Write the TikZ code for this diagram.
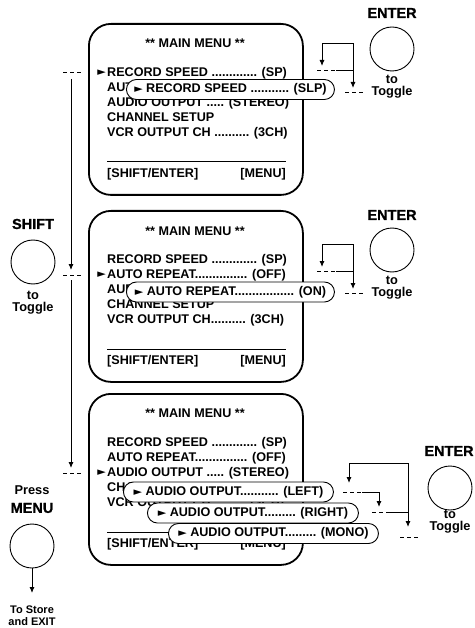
\documentclass[tikz,border=0pt]{standalone}
\usepackage{fontspec}
\setmainfont{Liberation Sans}
\newfontfamily\dvsans{DejaVu Sans}
\newfontfamily\heavyfont{Liberation Sans}[BoldFeatures={FakeBold=0.8}]
\usetikzlibrary{arrows.meta}
\newcommand{\tri}{{\dvsans\fontsize{11}{11}\selectfont ►}}
\newcommand{\menufont}{\bfseries\fontsize{12.6}{15}\selectfont}
\tikzset{
  menubox/.style={draw, line width=1.8pt, rounded corners=22pt, minimum width=214pt, minimum height=171pt, anchor=north west, fill=white, inner sep=0pt},
  row/.style={anchor=west, inner sep=0pt, text height=9pt, text depth=2.5pt, font=\menufont},
  rowr/.style={row, anchor=east},
  menutitle/.style={inner sep=0pt, text height=9pt, text depth=2.5pt, font=\menufont},
  pointer/.style={anchor=east, inner sep=0pt},
  pill/.style={draw, line width=0.9pt, fill=white, rounded corners=10pt, minimum height=20pt, inner xsep=4pt, inner ysep=0pt, anchor=west, text height=9pt, text depth=2.5pt, font=\menufont},
  btn/.style={draw, circle, line width=0.9pt, minimum size=44pt, inner sep=0pt},
  keylabel/.style={inner sep=0pt, font=\heavyfont\bfseries\fontsize{14.5}{16}\selectfont},
  smalllabel/.style={inner sep=0pt, align=center, font=\bfseries\fontsize{12.8}{12}\selectfont},
  tinylabel/.style={inner sep=0pt, align=center, font=\bfseries\fontsize{11}{12}\selectfont},
  conn/.style={line width=0.9pt},
  arr/.style={conn, -{Latex[length=6pt,width=5pt]}},
  dsh/.style={conn, dash pattern=on 4pt off 3pt},
  rulel/.style={line width=1pt}
}
\begin{document}
\begin{tikzpicture}[x=1pt,y=-1pt]
\useasboundingbox (0,0) rectangle (474,628);

% ---------------- Box 1 ----------------
\node[menubox] (b1) at (88,23) {};
\node[menutitle] (b1t) at (195,44) {** MAIN MENU **};
\node[row] (b1r1) at (107,73) {RECORD SPEED ............. (SP)};
\node[row] (b1r2) at (107,88) {AUTO REPEAT............... (OFF)};
\node[row] (b1r3) at (107,103) {AUDIO OUTPUT ..... (STEREO)};
\node[row] (b1r4) at (107,118) {CHANNEL SETUP};
\node[row] (b1r5) at (107,133) {VCR OUTPUT CH .......... (3CH)};
\coordinate (b1la) at (107,162); \coordinate (b1lb) at (286,162);
\draw[rulel] (b1la) -- (b1lb);
\node[row] (b1f1) at (107,174) {[SHIFT/ENTER]};
\node[rowr] (b1f2) at (286,174) {[MENU]};
\node[pointer] (b1m) at (106,72.5) {\tri};
\node[pill, minimum width=208pt] (b1p) at (126,89.5) {\tri\ RECORD SPEED ........... (SLP)};

% ---------------- Box 2 ----------------
\node[menubox] (b2) at (88,210) {};
\node[menutitle] (b2t) at (195,232) {** MAIN MENU **};
\node[row] (b2r1) at (107,260) {RECORD SPEED ............. (SP)};
\node[row] (b2r2) at (107,275) {AUTO REPEAT............... (OFF)};
\node[row] (b2r3) at (107,290) {AUDIO OUTPUT ..... (STEREO)};
\node[row] (b2r4) at (107,305) {CHANNEL SETUP};
\node[row] (b2r5) at (107,320) {VCR OUTPUT CH.......... (3CH)};
\coordinate (b2la) at (107,349); \coordinate (b2lb) at (286,349);
\draw[rulel] (b2la) -- (b2lb);
\node[row] (b2f1) at (107,361) {[SHIFT/ENTER]};
\node[rowr] (b2f2) at (286,361) {[MENU]};
\node[pointer] (b2m) at (106,274.5) {\tri};
\node[pill, minimum width=208pt] (b2p) at (126,292) {\tri\ AUTO REPEAT................. (ON)};

% ---------------- Box 3 ----------------
\node[menubox] (b3) at (88,393) {};
\node[menutitle] (b3t) at (195,414) {** MAIN MENU **};
\node[row] (b3r1) at (107,443) {RECORD SPEED ............. (SP)};
\node[row] (b3r2) at (107,458) {AUTO REPEAT............... (OFF)};
\node[row] (b3r3) at (107,473) {AUDIO OUTPUT ..... (STEREO)};
\node[row] (b3r4) at (107,488) {CHANNEL SETUP};
\node[row] (b3r5) at (107,503) {VCR OUTPUT CH.......... (3CH)};
\coordinate (b3la) at (107,532); \coordinate (b3lb) at (286,532);
\draw[rulel] (b3la) -- (b3lb);
\node[row] (b3f1) at (107,544) {[SHIFT/ENTER]};
\node[rowr] (b3f2) at (286,544) {[MENU]};
\node[pointer] (b3m) at (106,472.5) {\tri};
\node[pill, minimum width=210pt] (b3p1) at (123,492) {\tri\ AUDIO OUTPUT........... (LEFT)};
\node[pill, minimum width=211pt] (b3p2) at (147,513) {\tri\ AUDIO OUTPUT......... (RIGHT)};
\node[pill, minimum width=210pt] (b3p3) at (168,533.5) {\tri\ AUDIO OUTPUT......... (MONO)};

% ---------------- Left: SHIFT path ----------------
\coordinate (l1a) at (63,72); \coordinate (l1b) at (82,72);
\coordinate (l2a) at (63,275); \coordinate (l2b) at (82,275);
\coordinate (l3a) at (63,473); \coordinate (l3b) at (82,473);
\coordinate (v1a) at (71,79); \coordinate (v1b) at (71,270);
\coordinate (v2a) at (71,280); \coordinate (v2b) at (71,468);
\draw[dsh] (l1a) -- (l1b);
\draw[dsh] (l2a) -- (l2b);
\draw[dsh] (l3a) -- (l3b);
\draw[arr] (v1a) -- (v1b);
\draw[arr] (v2a) -- (v2b);

\node[keylabel] (shiftl) at (33,224) {SHIFT};
\node[btn] (shiftb) at (33,262) {};
\node[smalllabel] (shiftt) at (33,303) {to\\Toggle};

% ---------------- Press MENU ----------------
\node[smalllabel] (pressl) at (32,490) {Press};
\node[keylabel] (menul) at (32,508) {MENU};
\node[btn] (menub) at (32,546) {};
\coordinate (menua) at (32,593);
\draw[arr] (menub) -- (menua);
\node[tinylabel] (store) at (32,616) {To Store\\and EXIT};

% ---------------- ENTER 1 ----------------
\node[keylabel] (ent1l) at (392,13) {ENTER};
\node[btn] (ent1b) at (392,49) {};
\node[smalllabel] (ent1t) at (392,87) {to\\Toggle};
\coordinate (r1a) at (322,43); \coordinate (r1b) at (353,43);
\coordinate (r1c) at (322,66); \coordinate (r1d) at (353,70);
\coordinate (r1e) at (353,88);
\coordinate (r1s) at (317,70); \coordinate (r1t) at (336,70);
\coordinate (r1u) at (345,92); \coordinate (r1v) at (363,92);
\draw[dsh] (r1s) -- (r1t);
\draw[arr] (r1d) -- (r1b) -- (r1a) -- (r1c);
\draw[arr] (r1t) -- (r1d) -- (r1e);
\draw[dsh] (r1u) -- (r1v);

% ---------------- ENTER 2 ----------------
\node[keylabel] (ent2l) at (392,215) {ENTER};
\node[btn] (ent2b) at (392,250) {};
\node[smalllabel] (ent2t) at (392,288) {to\\Toggle};
\coordinate (r2a) at (322,244); \coordinate (r2b) at (353,244);
\coordinate (r2c) at (322,267); \coordinate (r2d) at (353,271);
\coordinate (r2e) at (353,289);
\coordinate (r2s) at (317,271); \coordinate (r2t) at (336,271);
\coordinate (r2u) at (345,293); \coordinate (r2v) at (363,293);
\draw[dsh] (r2s) -- (r2t);
\draw[arr] (r2d) -- (r2b) -- (r2a) -- (r2c);
\draw[arr] (r2t) -- (r2d) -- (r2e);
\draw[dsh] (r2u) -- (r2v);

% ---------------- ENTER 3 ----------------
\node[keylabel] (ent3l) at (449,451) {ENTER};
\node[btn] (ent3b) at (450,488) {};
\node[smalllabel] (ent3t) at (450,522) {to\\Toggle};
\coordinate (r3a) at (349,463); \coordinate (r3b) at (408,463);
\coordinate (r3c) at (349,483);
\coordinate (r3d) at (343,492); \coordinate (r3e) at (362,492);
\coordinate (r3f) at (379,492); \coordinate (r3g) at (379,507);
\coordinate (r3h) at (372,512); \coordinate (r3i) at (390,512);
\coordinate (r3j) at (408,512); \coordinate (r3k) at (408,527);
\coordinate (r3l) at (400,537); \coordinate (r3m) at (418,537);
\draw[arr] (r3b) -- (r3a) -- (r3c);
\draw[arr] (r3b) -- (r3k);
\draw[dsh] (r3d) -- (r3e);
\draw[arr] (r3e) -- (r3f) -- (r3g);
\draw[dsh] (r3h) -- (r3i);
\draw[conn] (r3i) -- (r3j);
\draw[dsh] (r3l) -- (r3m);
\end{tikzpicture}
\end{document}
